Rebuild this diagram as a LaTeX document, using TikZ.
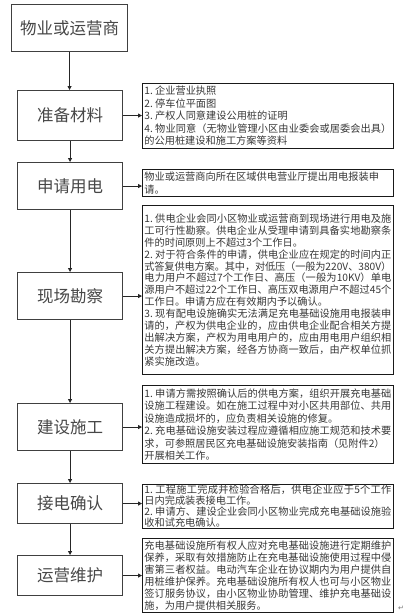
\documentclass[tikz,border=0pt]{standalone}
\usepackage{fontspec}
\setmainfont{Noto Sans CJK SC}
\newfontfamily\symfont{DejaVu Sans}
\usetikzlibrary{arrows.meta}
\XeTeXlinebreaklocale "zh"
\XeTeXlinebreakskip=0pt plus 1.5pt minus 0.4pt
\setlength{\parindent}{0pt}
\newcommand{\rtext}[2]{\parbox{247pt}{\fontsize{10.2pt}{#1}\selectfont\parindent=0pt\relax #2}}
\tikzset{
  lbox/.style={draw=black!75, line width=1.1pt, anchor=north west, inner sep=0pt,
    font=\fontsize{16.5pt}{18pt}\selectfont, text=black!72},
  rbox/.style={draw=black!90, line width=0.8pt, anchor=north west, inner xsep=2pt, inner ysep=0pt,
    minimum width=251pt, text=black!78},
  arr/.style={-{Triangle[length=4pt,width=4pt]}, line width=0.8pt, draw=black!85}
}
\begin{document}
\begin{tikzpicture}[x=1pt,y=-1pt]
\fill[white] (0,0) rectangle (407,616);
\useasboundingbox (0,0) rectangle (407,616);
% left column
\node[lbox, minimum width=116pt, minimum height=47pt] (s0) at (11,4) {物业或运营商};
\node[lbox, minimum width=105pt, minimum height=50pt] (s1) at (17,90) {准备材料};
\node[lbox, minimum width=105pt, minimum height=47pt] (s2) at (17,162) {申请用电};
\node[lbox, minimum width=105pt, minimum height=47pt] (s3) at (17,272) {现场勘察};
\node[lbox, minimum width=105pt, minimum height=47pt] (s4) at (17,403) {建设施工};
\node[lbox, minimum width=105pt, minimum height=40pt] (s5) at (17,483) {接电确认};
\node[lbox, minimum width=105pt, minimum height=40pt] (s6) at (17,555) {运营维护};
% right column
\node[rbox, minimum height=65pt] (r1) at (142,83) {\rtext{12.5pt}{1.~企业营业执照\par 2.~停车位平面图\par 3.~产权人同意建设公用桩的证明\par 4.~物业同意（无物业管理小区由业委会或居委会出具）\linebreak 的公用桩建设和施工方案等资料}};
\node[rbox, minimum height=27pt] (r2) at (142,169) {\rtext{12.5pt}{物业或运营商向所在区域供电营业厅提出用电报装申\newline 请。}};
\node[rbox, minimum height=169pt] (r3) at (142,205) {\rtext{11.9pt}{1.~供电企业会同小区物业或运营商到现场进行用电及施\linebreak 工可行性勘察。供电企业从受理申请到具备实地勘察条\linebreak 件的时间原则上不超过3个工作日。\par 2.~对于符合条件的申请，供电企业应在规定的时间内正\linebreak 式答复供电方案。其中，对低压（一般为220V、380V）\linebreak 电力用户不超过7个工作日、高压（一般为10KV）单电\linebreak 源用户不超过22个工作日、高压双电源用户不超过45个\linebreak 工作日。申请方应在有效期内予以确认。\par 3.~现有配电设施确实无法满足充电基础设施用电报装申\linebreak 请的，产权为供电企业的，应由供电企业配合相关方提\linebreak 出解决方案，产权为用电用户的，应由用电用户组织相\linebreak 关方提出解决方案，经各方协商一致后，由产权单位抓\linebreak 紧实施改造。}};
\node[rbox, minimum height=78pt] (r4) at (142,385) {\rtext{12.5pt}{1.~申请方需按照确认后的供电方案，组织开展充电基础\linebreak 设施工程建设。如在施工过程中对小区共用部位、共用\linebreak 设施造成损坏的，应负责相关设施的修复。\par 2.~充电基础设施安装过程应遵循相应施工规范和技术要\linebreak 求，可参照居民区充电基础设施安装指南（见附件2）\newline 开展相关工作。}};
\node[rbox, minimum height=44pt] (r5) at (142,484) {\rtext{10.9pt}{1.~工程施工完成并检验合格后，供电企业应于5个工作\linebreak 日内完成装表接电工作。\par 2.~申请方、建设企业会同小区物业完成充电基础设施验\linebreak 收和试充电确认。}};
\node[rbox, minimum height=74pt] (r6) at (142,538) {\rtext{12pt}{充电基础设施所有权人应对充电基础设施进行定期维护\linebreak 保养，采取有效措施防止在充电基础设施使用过程中侵\linebreak 害第三者权益。电动汽车企业在协议期内为用户提供自\linebreak 用桩维护保养。充电基础设施所有权人也可与小区物业\linebreak 签订服务协议，由小区物业协助管理、维护充电基础设\linebreak 施，为用户提供相关服务。}};
\node[font=\symfont\fontsize{7pt}{7pt}\selectfont, text=black!55, inner sep=0pt] (pm) at (401,608) {↵};
% vertical connectors
\draw[arr] (s0.south) -- (s0.south |- s1.north);
\draw[arr] (s1.south) -- (s1.south |- s2.north);
\draw[arr] (s2.south) -- (s2.south |- s3.north);
\draw[arr] (s3.south) -- (s3.south |- s4.north);
\draw[arr] (s4.south) -- (s4.south |- s5.north);
\draw[arr] (s5.south) -- (s5.south |- s6.north);
% horizontal connectors
\draw[arr] (s1.east) -- (s1.east -| r1.west);
\draw[arr] (s2.east) -- (s2.east -| r2.west);
\draw[arr] (s3.east) -- (s3.east -| r3.west);
\draw[arr] (s4.east) -- (s4.east -| r4.west);
\draw[arr] (s5.east) -- (s5.east -| r5.west);
\draw[arr] (s6.east) -- (s6.east -| r6.west);
\end{tikzpicture}
\end{document}
